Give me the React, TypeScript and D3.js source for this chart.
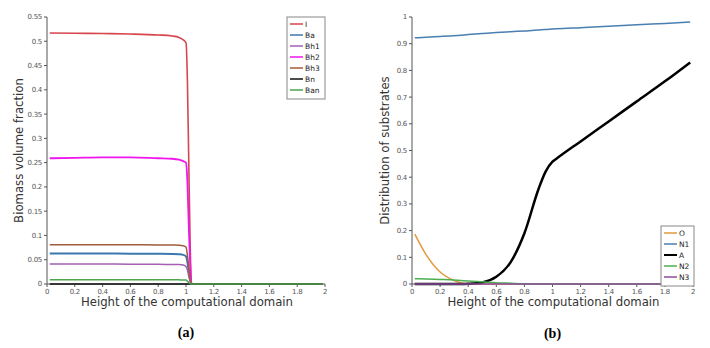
import React from 'react';
import * as d3 from 'd3';

// left panel: biomass volume fractions over height
const xsA = [0.02, 0.2, 0.4, 0.6, 0.8, 0.9, 0.95, 0.98, 1.0, 1.01, 1.02, 1.03, 1.04, 1.2, 1.4, 1.6, 1.8, 1.98];
const valI = [0.517, 0.5165, 0.516, 0.515, 0.513, 0.511, 0.508, 0.503, 0.497, 0.42, 0.25, 0.08, 0, 0, 0, 0, 0, 0];
const valBa = [0.063, 0.063, 0.0628, 0.0625, 0.0622, 0.0618, 0.0612, 0.06, 0.057, 0.045, 0.025, 0.008, 0, 0, 0, 0, 0, 0];
const valBh1 = [0.041, 0.041, 0.041, 0.0408, 0.0405, 0.0402, 0.04, 0.039, 0.036, 0.029, 0.016, 0.005, 0, 0, 0, 0, 0, 0];
const valBh2 = [0.259, 0.26, 0.261, 0.261, 0.259, 0.258, 0.256, 0.253, 0.25, 0.21, 0.12, 0.04, 0, 0, 0, 0, 0, 0];
const valBh3 = [0.081, 0.081, 0.081, 0.0808, 0.0805, 0.0802, 0.08, 0.079, 0.076, 0.06, 0.035, 0.01, 0, 0, 0, 0, 0, 0];
const valBn = [0, 0, 0, 0, 0, 0, 0, 0, 0, 0, 0, 0, 0, 0, 0, 0, 0, 0];
const valBan = [0.009, 0.009, 0.009, 0.009, 0.0088, 0.0087, 0.0085, 0.0083, 0.008, 0.006, 0.003, 0.001, 0, 0, 0, 0, 0, 0];

// right panel: substrates over height
const xsB = [0.02, 0.1, 0.2, 0.27, 0.35, 0.4, 0.5, 0.6, 0.7, 0.8, 0.9, 0.95, 1.0, 1.03, 1.2, 1.4, 1.6, 1.8, 1.98];
const valO = [0.187, 0.11, 0.045, 0.02, 0.004, 0, 0, 0, 0, 0, 0, 0, 0, 0, 0, 0, 0, 0, 0];
const valN1 = [0.922, 0.924, 0.927, 0.929, 0.932, 0.934, 0.938, 0.942, 0.945, 0.948, 0.951, 0.953, 0.955, 0.956, 0.96, 0.965, 0.971, 0.976, 0.981];
const valA = [0, 0, 0, 0, 0, 0.001, 0.006, 0.027, 0.08, 0.19, 0.355, 0.42, 0.458, 0.47, 0.534, 0.609, 0.684, 0.759, 0.83];
const valN2 = [0.02, 0.019, 0.017, 0.016, 0.013, 0.011, 0.008, 0.005, 0.003, 0.001, 0, 0, 0, 0, 0, 0, 0, 0, 0];
const valN3 = [0, 0, 0, 0, 0, 0, 0, 0, 0, 0, 0, 0, 0, 0, 0, 0, 0, 0, 0];

const seriesA = [
  { name: 'I', vals: valI, color: '#d6464f', w: 1.6 },
  { name: 'Ba', vals: valBa, color: '#3b78ae', w: 2 },
  { name: 'Bh1', vals: valBh1, color: '#a45fb4', w: 1.5 },
  { name: 'Bh2', vals: valBh2, color: '#f016ee', w: 1.8 },
  { name: 'Bh3', vals: valBh3, color: '#a05c3a', w: 1.5 },
  { name: 'Bn', vals: valBn, color: '#111111', w: 1.5 },
  { name: 'Ban', vals: valBan, color: '#4da64d', w: 1.5 },
];

const seriesB = [
  { name: 'O', vals: valO, color: '#e39a3c', w: 1.5 },
  { name: 'N1', vals: valN1, color: '#4a7fb2', w: 1.5 },
  { name: 'A', vals: valA, color: '#000000', w: 2.5 },
  { name: 'N2', vals: valN2, color: '#4caf50', w: 1.5 },
  { name: 'N3', vals: valN3, color: '#8e4ea0', w: 1.5 },
];

const xTicks = [0, 0.2, 0.4, 0.6, 0.8, 1, 1.2, 1.4, 1.6, 1.8, 2];
const yTicksA = [0, 0.05, 0.1, 0.15, 0.2, 0.25, 0.3, 0.35, 0.4, 0.45, 0.5, 0.55];
const yTicksB = [0, 0.1, 0.2, 0.3, 0.4, 0.5, 0.6, 0.7, 0.8, 0.9, 1];

const font = '"DejaVu Sans", sans-serif';
const axisColor = '#555';

type Series = { name: string, vals: number[], color: string, w: number };

type PanelProps = {
  left: number,
  right: number,
  top: number,
  bottom: number,
  xs: number[],
  series: Series[],
  yMax: number,
  yTicks: number[],
  yLabel: string,
  yLabelX: number,
  legend: { x: number, y: number, w: number },
  tag: string,
  tagY: number,
};

const Panel = ({ left, right, top, bottom, xs, series, yMax, yTicks, yLabel, yLabelX, legend, tag, tagY }: PanelProps) => {
  const xScale = d3.scaleLinear().domain([0, 2]).range([left, right]);
  const yScale = d3.scaleLinear().domain([0, yMax]).range([bottom, top]);
  const line = d3.line<number>()
    .x((_, i) => xScale(xs[i]))
    .y(d => yScale(d))
    .curve(d3.curveMonotoneX);
  const fmt = (t: number) => String(+t.toFixed(2));
  const rowH = 11;
  const legH = series.length * rowH + 5;

  return (
    <g fontFamily={font}>
      {/* y axis */}
      <line x1={left} x2={left} y1={top} y2={bottom} stroke={axisColor} />
      {yTicks.map(t => (
        <g key={`y${t}`}>
          <line x1={left - 3} x2={left} y1={yScale(t)} y2={yScale(t)} stroke={axisColor} />
          <text x={left - 5} y={yScale(t)} dy="0.35em" textAnchor="end" fontSize={7} letterSpacing={-0.3} fill="#555">{fmt(t)}</text>
        </g>
      ))}
      {/* x axis */}
      <line x1={left} x2={right} y1={bottom} y2={bottom} stroke={axisColor} />
      {xTicks.map(t => (
        <g key={`x${t}`}>
          <line x1={xScale(t)} x2={xScale(t)} y1={bottom} y2={bottom + 3} stroke={axisColor} />
          <text x={xScale(t)} y={bottom + 9.5} textAnchor="middle" fontSize={7} letterSpacing={-0.3} fill="#555">{fmt(t)}</text>
        </g>
      ))}
      <text x={(left + right) / 2 + 1} y={bottom + 22} textAnchor="middle" fontSize={11.7} fill="#333">Height of the computational domain</text>
      <text transform={`translate(${yLabelX},${(top + bottom) / 2}) rotate(-90)`} textAnchor="middle" fontSize={11.7} fill="#333">{yLabel}</text>

      {series.map(s => (
        <path key={s.name} d={line(s.vals) || ''} fill="none" stroke={s.color} strokeWidth={s.w} strokeLinejoin="round" />
      ))}

      {/* legend */}
      <rect x={legend.x} y={legend.y} width={legend.w} height={legH} fill="#fff" stroke="#888" strokeWidth={1} />
      {series.map((s, i) => {
        const cy = legend.y + 7 + i * rowH;
        return (
          <g key={`l${s.name}`}>
            <line x1={legend.x + 3} x2={legend.x + 16} y1={cy} y2={cy} stroke={s.color} strokeWidth={s.name === 'A' ? 2 : 1.5} />
            <text x={legend.x + 18} y={cy} dy="0.35em" fontSize={7.5} fill="#222">{s.name}</text>
          </g>
        );
      })}

      <text x={(left + right) / 2} y={tagY} textAnchor="middle" fontSize={14} fontWeight="bold" fontFamily='"Liberation Serif", serif'>{tag}</text>
    </g>
  );
};

export default function App() {
  return (
    <svg width={710} height={348} style={{ position: 'absolute', left: 0, top: 0, background: '#fff' }}>
      <Panel
        left={47} right={325} top={17} bottom={284}
        xs={xsA} series={seriesA} yMax={0.55} yTicks={yTicksA}
        yLabel="Biomass volume fraction" yLabelX={23}
        legend={{ x: 287, y: 17, w: 38 }}
        tag="(a)" tagY={337}
      />
      <Panel
        left={412} right={693} top={17} bottom={284}
        xs={xsB} series={seriesB} yMax={1} yTicks={yTicksB}
        yLabel="Distribution of substrates" yLabelX={389}
        legend={{ x: 661, y: 226, w: 33 }}
        tag="(b)" tagY={338}
      />
    </svg>
  );
}
